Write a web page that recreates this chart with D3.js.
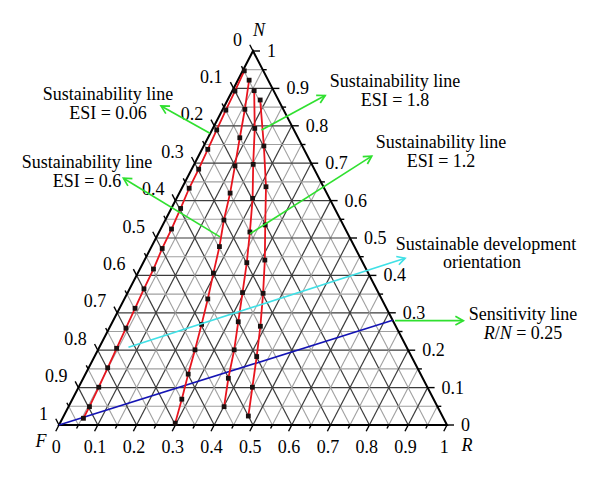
<!DOCTYPE html>
<html>
<head>
<meta charset="utf-8">
<script src="https://cdn.jsdelivr.net/npm/d3@7/dist/d3.min.js"></script>
<style>
  html, body { margin: 0; padding: 0; background: #fff; }
  svg { display: block; }
  text { font-family: "Liberation Serif", "Times New Roman", serif; font-size: 18px; fill: #000; }
</style>
</head>
<body>
<svg id="chart" width="600" height="478"></svg>
<script>
// ---------- DATA (ternary coordinates: R, N ; F = 1 - R - N) ----------
const tickValues = [0, 0.1, 0.2, 0.3, 0.4, 0.5, 0.6, 0.7, 0.8, 0.9, 1];
const tickLabels = ["0", "0.1", "0.2", "0.3", "0.4", "0.5", "0.6", "0.7", "0.8", "0.9", "1"];
const gridSteps = d3.range(1, 20).map(i => i / 20);

const esi006 = [[0.054,0.018],[0.054,0.049],[0.052,0.101],[0.049,0.153],[0.046,0.205],[0.043,0.259],
  [0.040,0.312],[0.037,0.364],[0.035,0.417],[0.030,0.472],[0.028,0.524],[0.024,0.579],[0.019,0.633],
  [0.018,0.684],[0.015,0.737],[0.012,0.789],[0.009,0.842],[0.007,0.893],[0.004,0.947]];
const esi06 = [[0.297,0.005],[0.282,0.069],[0.265,0.136],[0.250,0.201],[0.233,0.269],[0.215,0.337],
  [0.195,0.406],[0.175,0.477],[0.151,0.548],[0.131,0.620],[0.107,0.693],[0.082,0.768],[0.057,0.844],[0.029,0.922]];
const esi12 = [[0.401,0.049],[0.374,0.125],[0.351,0.201],[0.324,0.276],[0.296,0.354],[0.267,0.434],
  [0.234,0.516],[0.196,0.606],[0.152,0.697],[0.108,0.793],[0.056,0.894]];
const esi18 = [[0.476,0.024],[0.448,0.101],[0.418,0.183],[0.387,0.264],[0.350,0.352],[0.310,0.441],
  [0.264,0.535],[0.215,0.637],[0.155,0.746],[0.084,0.869]];
const sustainabilityLines = [esi006, esi06, esi12, esi18];

// sensitivity line R/N (ternary R, N)
const sensitivityLine = [[0, 0], [0.72, 0.28]];

// annotation arrows in plot units (u across base 0..1, v height 0..1): [start, tip]
const arrowESI006 = [[0.389, 0.780], [0.263, 0.853]];
const arrowESI06  = [[0.415, 0.503], [0.166, 0.660]];
const arrowESI18  = [[0.522, 0.789], [0.686, 0.881]];
const arrowESI12  = [[0.492, 0.511], [0.806, 0.719]];
const arrowSDO    = [[0.179, 0.208], [0.892, 0.446]];
const arrowSens   = [[0.866, 0.279], [1.042, 0.279]];

// ---------- SCALES ----------
const svg = d3.select("#chart");
const xScale = d3.scaleLinear().domain([0, 1]).range([59, 447]);
const yScale = d3.scaleLinear().domain([0, 1]).range([425, 51]);
const px = (R, N) => xScale(R + N / 2);
const py = (R, N) => yScale(N);
const pt = d => [px(d[0], d[1]), py(d[0], d[1])];
const upt = d => [xScale(d[0]), yScale(d[1])];

// ---------- GRID ----------
const grid = svg.append("g");
gridSteps.forEach(v => {
  const major = Math.abs(v * 10 - Math.round(v * 10)) < 1e-6;
  const color = major ? "#3c3c3c" : "#a0a0a0";
  const segs = [
    [[0, v], [1 - v, v]],            // constant N
    [[v, 0], [v, 1 - v]],            // constant R
    [[1 - v, 0], [0, 1 - v]]         // constant F
  ];
  segs.forEach(s => {
    grid.append("line")
      .attr("x1", px(s[0][0], s[0][1])).attr("y1", py(s[0][0], s[0][1]))
      .attr("x2", px(s[1][0], s[1][1])).attr("y2", py(s[1][0], s[1][1]))
      .attr("stroke", color).attr("stroke-width", major ? 1.2 : 1.1);
  });
});

// ---------- TRIANGLE ----------
svg.append("path")
  .attr("d", d3.line()([pt([0,0]), pt([1,0]), pt([0,1])]) + "Z")
  .attr("fill", "none").attr("stroke", "#000").attr("stroke-width", 2)
  .attr("stroke-linejoin", "miter");

// ---------- TICKS ----------
const L = Math.hypot(194, 374);
const dDown = [-194 / L, 374 / L], dUp = [-194 / L, -374 / L];
const allTicks = d3.range(0, 21).map(i => i / 20);
const ticks = svg.append("g").attr("stroke", "#000").attr("stroke-width", 1.4);
allTicks.forEach(v => {
  const len = (Math.round(v * 20) % 2 === 0) ? 7 : 4;
  let [x, y] = pt([v, 0]);
  ticks.append("line").attr("x1", x).attr("y1", y).attr("x2", x + dDown[0] * len).attr("y2", y + dDown[1] * len);
  [x, y] = pt([0, 1 - v]);
  ticks.append("line").attr("x1", x).attr("y1", y).attr("x2", x + dUp[0] * len).attr("y2", y + dUp[1] * len);
  [x, y] = pt([1 - v, v]);
  ticks.append("line").attr("x1", x).attr("y1", y).attr("x2", x + len).attr("y2", y);
});

// ---------- TICK LABELS ----------
const labels = svg.append("g");
tickValues.forEach((v, i) => {
  let [x, y] = pt([v, 0]);
  labels.append("text").attr("x", x - 2.7).attr("y", 453).attr("text-anchor", "middle").text(tickLabels[i]);
  [x, y] = pt([0, 1 - v]);
  labels.append("text").attr("x", x - 11).attr("y", y - 5.5).attr("text-anchor", "end").text(tickLabels[i]);
  [x, y] = pt([1 - v, v]);
  labels.append("text").attr("x", x + 14).attr("y", y + 6).attr("text-anchor", "start").text(tickLabels[i]);
});
svg.append("text").attr("x", 259).attr("y", 36).attr("text-anchor", "middle").attr("font-style", "italic").text("N");
svg.append("text").attr("x", 41).attr("y", 447).attr("text-anchor", "middle").attr("font-style", "italic").text("F");
svg.append("text").attr("x", 467).attr("y", 451).attr("text-anchor", "middle").attr("font-style", "italic").text("R");

// ---------- SENSITIVITY LINE ----------
svg.append("path").attr("d", d3.line()(sensitivityLine.map(pt)))
  .attr("fill", "none").attr("stroke", "#1414b4").attr("stroke-width", 1.7);

// ---------- SUSTAINABILITY LINES ----------
const lineGen = d3.line().curve(d3.curveLinear);
sustainabilityLines.forEach(series => {
  svg.append("path").attr("d", lineGen(series.map(pt)))
    .attr("fill", "none").attr("stroke", "#e8141e").attr("stroke-width", 1.8);
  svg.append("g").selectAll("rect").data(series).join("rect")
    .attr("x", d => pt(d)[0] - 2.4).attr("y", d => pt(d)[1] - 2.4)
    .attr("width", 4.8).attr("height", 4.8).attr("fill", "#1a1010");
});

// ---------- ARROWS ----------
function arrow(a, color) {
  const s = upt(a[0]), t = upt(a[1]);
  const g = svg.append("g").attr("stroke", color).attr("stroke-width", 1.7).attr("fill", "none");
  g.append("line").attr("x1", s[0]).attr("y1", s[1]).attr("x2", t[0]).attr("y2", t[1]);
  const ang = Math.atan2(t[1] - s[1], t[0] - s[0]);
  const hl = 9, hw = 0.5;
  const p1 = [t[0] - hl * Math.cos(ang - hw), t[1] - hl * Math.sin(ang - hw)];
  const p2 = [t[0] - hl * Math.cos(ang + hw), t[1] - hl * Math.sin(ang + hw)];
  g.append("path").attr("d", d3.line()([p1, t, p2]));
}
const green = "#30e030";
arrow(arrowESI006, green);
arrow(arrowESI06, green);
arrow(arrowESI18, green);
arrow(arrowESI12, green);
arrow(arrowSDO, "#40e0e6");
arrow(arrowSens, green);

// ---------- ANNOTATION TEXT ----------
function label2(x, y1, lines) {
  lines.forEach((l, i) => {
    svg.append("text").attr("x", x).attr("y", y1 + i * 18.5).attr("text-anchor", "middle").text(l);
  });
}
label2(108, 100, ["Sustainability line", "ESI = 0.06"]);
label2(87, 168, ["Sustainability line", "ESI = 0.6"]);
label2(395, 87, ["Sustainability line", "ESI = 1.8"]);
label2(441, 148, ["Sustainability line", "ESI = 1.2"]);
svg.append("text").attr("x", 486).attr("y", 249.5).attr("text-anchor", "middle").text("Sustainable development");
svg.append("text").attr("x", 482).attr("y", 268).attr("text-anchor", "middle").text("orientation");
svg.append("text").attr("x", 523).attr("y", 319.5).attr("text-anchor", "middle").text("Sensitivity line");

// "R/N = 0.25" as one text element with italic tspans
const rn = svg.append("text").attr("x", 523).attr("y", 338.5).attr("text-anchor", "middle");
rn.append("tspan").attr("font-style", "italic").text("R");
rn.append("tspan").text("/");
rn.append("tspan").attr("font-style", "italic").text("N");
rn.append("tspan").text(" = 0.25");
</script>
</body>
</html>
